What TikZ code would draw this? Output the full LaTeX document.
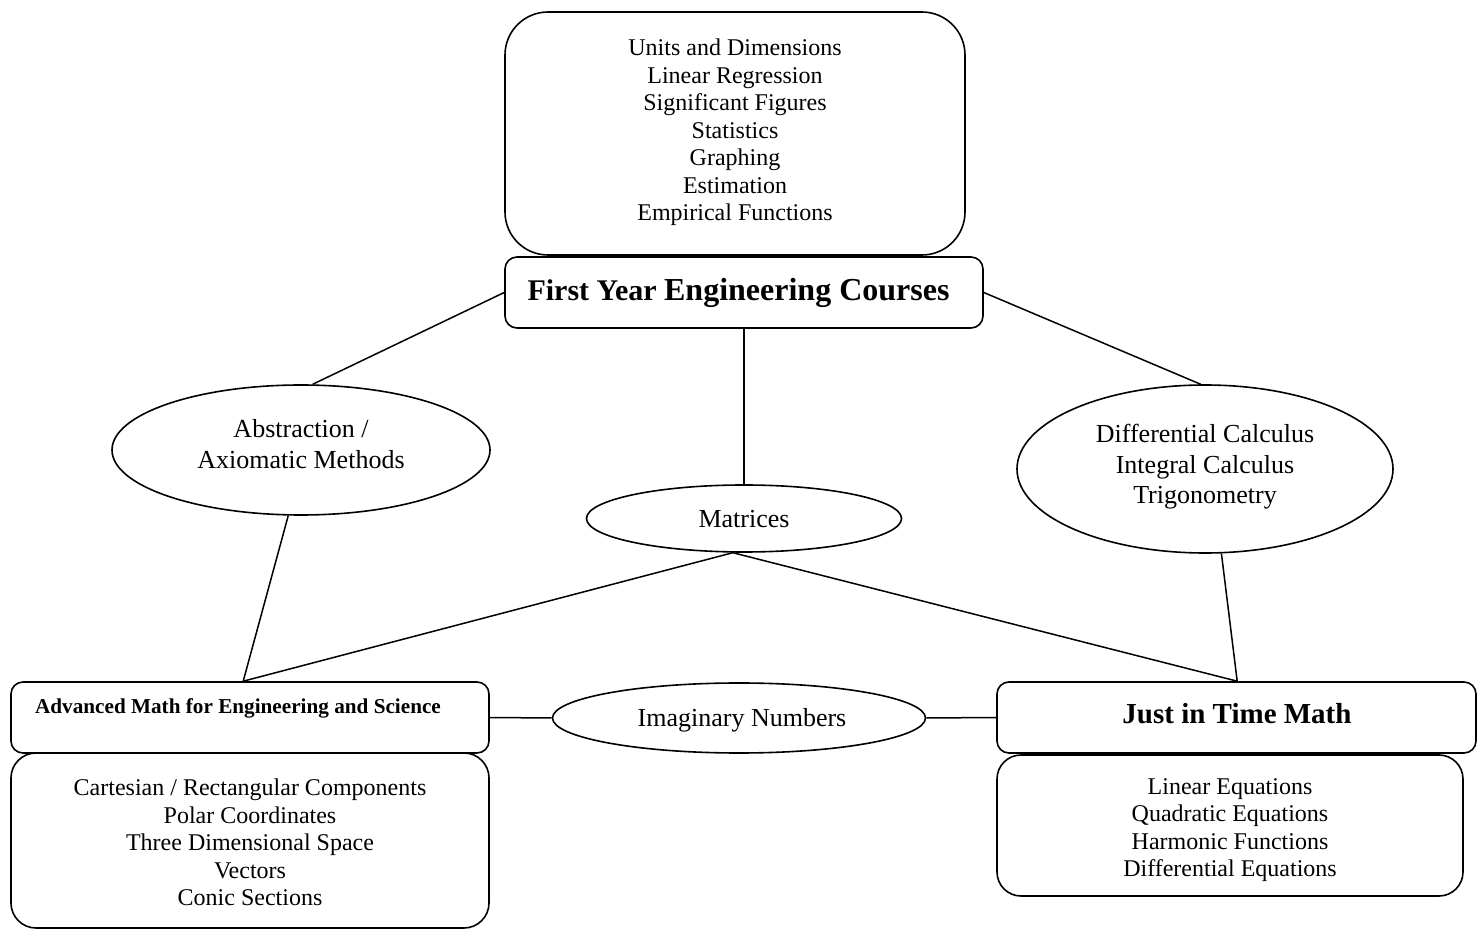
\documentclass[tikz,border=0pt]{standalone}
\usepackage{fontspec}
\setmainfont{Liberation Serif}
\usetikzlibrary{shapes.geometric,calc}
\begin{document}
\begin{tikzpicture}[x=0.5pt,y=-0.5pt,
  box/.style={draw, line width=0.8pt, inner sep=0pt, align=center},
  oval/.style={draw, ellipse, line width=0.8pt, inner sep=0pt},
  ovaltext/.style={inner sep=0pt, align=center, font=\fontsize{13}{15.2}\selectfont},
  listtext/.style={inner sep=0pt, align=center, font=\fontsize{12}{13.75}\selectfont},
  conn/.style={line width=0.75pt}]
\useasboundingbox (0,0) rectangle (1480,930);

% top list box and title
\node[box, rounded corners=21.5pt, minimum width=230pt, minimum height=121.5pt] (top) at (735,133.5) {};
\node[listtext] (topT) at (735,132.5)
  {Units and Dimensions\\Linear Regression\\Significant Figures\\Statistics\\Graphing\\Estimation\\Empirical Functions};
\node[box, rounded corners=6pt, minimum width=239pt, minimum height=35.5pt] (fyec) at (744,292.5) {};
\node[inner sep=0pt, font=\bfseries] (fyecT) at (738.5,293)
  {\fontsize{15}{17}\selectfont First Year \fontsize{16}{18}\selectfont Engineering Courses};

% ellipses
\node[oval, minimum width=189pt, minimum height=65pt] (abs) at (301,450) {};
\node[ovaltext] (absT) at (301,444) {Abstraction /\\Axiomatic Methods};
\node[oval, minimum width=157.5pt, minimum height=33.5pt] (mat) at (744,518.5) {};
\node[ovaltext] (matT) at (744,519) {Matrices};
\node[oval, minimum width=188pt, minimum height=84pt] (calc) at (1205,469) {};
\node[ovaltext] (calcT) at (1205,467) {Differential Calculus\\Integral Calculus\\Trigonometry};
\node[oval, minimum width=186.5pt, minimum height=35pt] (img) at (739,718) {};
\node[ovaltext] (imgT) at (742,720) {Imaginary Numbers};

% bottom left
\node[box, rounded corners=6pt, minimum width=239pt, minimum height=35.5pt] (adv) at (250,717.5) {};
\node[inner sep=0pt, font=\bfseries\fontsize{10.6}{12}\selectfont] (advT) at (238,708) {Advanced Math for Engineering and Science};
\node[box, rounded corners=12.5pt, minimum width=239pt, minimum height=87.5pt] (advL) at (250,840.5) {};
\node[listtext] (advLT) at (250,842.5)
  {Cartesian / Rectangular Components\\Polar Coordinates\\Three Dimensional Space\\Vectors\\Conic Sections};

% bottom right
\node[box, rounded corners=6pt, minimum width=239.5pt, minimum height=35.5pt] (jit) at (1236.5,717.5) {};
\node[inner sep=0pt, font=\bfseries\fontsize{14.5}{16}\selectfont] (jitT) at (1237,714) {Just in Time Math};
\node[box, rounded corners=12pt, minimum width=233pt, minimum height=70.5pt] (jitL) at (1230,825.5) {};
\node[listtext] (jitLT) at (1230,830)
  {Linear Equations\\Quadratic Equations\\Harmonic Functions\\Differential Equations};

% connector end points on box tops
\coordinate (advTop) at ($(adv.north west)+(233,0)$);
\coordinate (jitTop) at ($(jit.north west)+(241,0)$);

% connectors
\draw[conn] (fyec.west) -- (abs.80);
\draw[conn] (fyec.south) -- (mat.north);
\draw[conn] (fyec.east) -- (calc.93);
\draw[conn] (abs.259) -- (advTop);
\draw[conn] (mat.252) -- (advTop);
\draw[conn] (mat.252) -- (jitTop);
\draw[conn] (calc.281) -- (jitTop);
\draw[conn] (adv.east) -- (img.west);
\draw[conn] (img.east) -- (jit.west);
\end{tikzpicture}
\end{document}
